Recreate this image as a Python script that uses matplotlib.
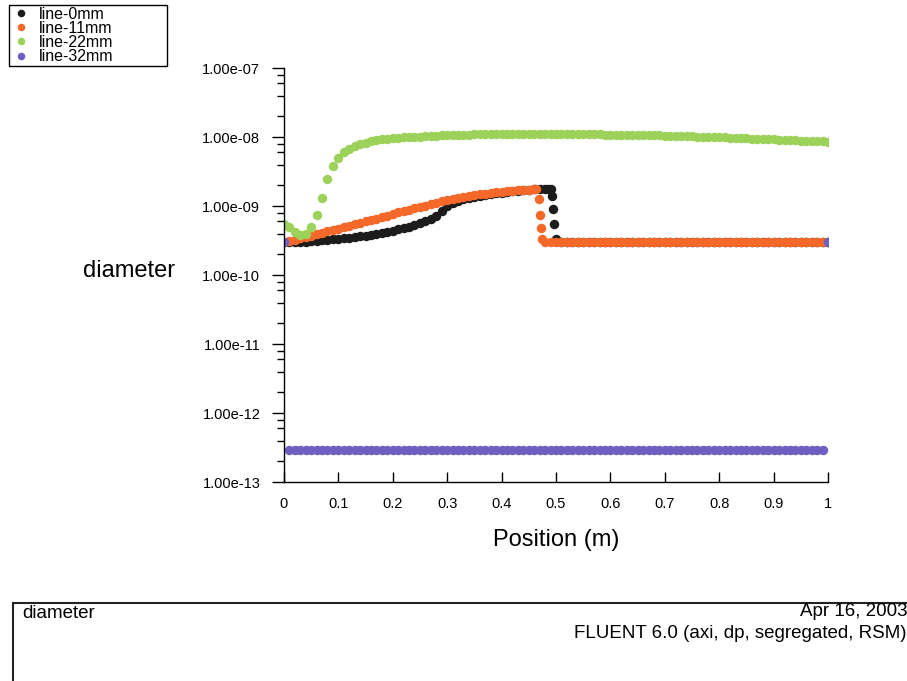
import matplotlib
matplotlib.use("Agg")
import matplotlib.pyplot as plt
from matplotlib.patches import Rectangle
from matplotlib.ticker import FixedLocator, FuncFormatter, LogLocator, NullFormatter

plt.rcParams['font.family'] = ['Liberation Sans', 'DejaVu Sans']

# sample positions along each line (m)
grid = [0.00, 0.01, 0.02, 0.03, 0.04, 0.05, 0.06, 0.07, 0.08, 0.09,
        0.10, 0.11, 0.12, 0.13, 0.14, 0.15, 0.16, 0.17, 0.18, 0.19,
        0.20, 0.21, 0.22, 0.23, 0.24, 0.25, 0.26, 0.27, 0.28, 0.29,
        0.30, 0.31, 0.32, 0.33, 0.34, 0.35, 0.36, 0.37, 0.38, 0.39,
        0.40, 0.41, 0.42, 0.43, 0.44, 0.45, 0.46, 0.47, 0.48, 0.49,
        0.50, 0.51, 0.52, 0.53, 0.54, 0.55, 0.56, 0.57, 0.58, 0.59,
        0.60, 0.61, 0.62, 0.63, 0.64, 0.65, 0.66, 0.67, 0.68, 0.69,
        0.70, 0.71, 0.72, 0.73, 0.74, 0.75, 0.76, 0.77, 0.78, 0.79,
        0.80, 0.81, 0.82, 0.83, 0.84, 0.85, 0.86, 0.87, 0.88, 0.89,
        0.90, 0.91, 0.92, 0.93, 0.94, 0.95, 0.96, 0.97, 0.98, 0.99,
        1.00]

d_0mm = [3.0e-10, 3.0e-10, 3.0e-10, 3.0e-10, 3.05e-10, 3.1e-10, 3.15e-10, 3.2e-10, 3.25e-10, 3.3e-10,
         3.35e-10, 3.4e-10, 3.5e-10, 3.55e-10, 3.65e-10, 3.75e-10, 3.85e-10, 3.95e-10, 4.1e-10, 4.25e-10,
         4.4e-10, 4.6e-10, 4.8e-10, 5.0e-10, 5.3e-10, 5.6e-10, 6.0e-10, 6.5e-10, 7.3e-10, 8.5e-10,
         1.0e-9, 1.1e-9, 1.18e-9, 1.25e-9, 1.3e-9, 1.35e-9, 1.4e-9, 1.45e-9, 1.5e-9, 1.53e-9,
         1.57e-9, 1.6e-9, 1.63e-9, 1.66e-9, 1.7e-9, 1.72e-9, 1.75e-9, 1.78e-9, 1.8e-9, 1.8e-9,
         3.3e-10] + [3.0e-10] * 50
d_0mm_drop_x = [0.485, 0.492, 0.494, 0.496]
d_0mm_drop = [1.8e-9, 1.4e-9, 9.0e-10, 5.5e-10]

d_11mm = [3.0e-10, 3.1e-10, 3.25e-10, 3.4e-10, 3.55e-10, 3.7e-10, 3.9e-10, 4.1e-10, 4.3e-10, 4.5e-10,
          4.7e-10, 4.95e-10, 5.2e-10, 5.45e-10, 5.7e-10, 6.0e-10, 6.3e-10, 6.6e-10, 6.95e-10, 7.3e-10,
          7.7e-10, 8.1e-10, 8.5e-10, 8.9e-10, 9.3e-10, 9.8e-10, 1.02e-9, 1.07e-9, 1.12e-9, 1.17e-9,
          1.22e-9, 1.27e-9, 1.32e-9, 1.36e-9, 1.4e-9, 1.44e-9, 1.48e-9, 1.52e-9, 1.55e-9, 1.58e-9,
          1.61e-9, 1.64e-9, 1.67e-9, 1.7e-9, 1.72e-9, 1.74e-9, 1.76e-9, 7.5e-10] + [3.0e-10] * 53
d_11mm_drop_x = [0.464, 0.468, 0.472, 0.475]
d_11mm_drop = [1.75e-9, 1.25e-9, 4.8e-10, 3.3e-10]

d_22mm = [5.5e-10, 5.0e-10, 4.2e-10, 3.8e-10, 4.0e-10, 5.0e-10, 7.5e-10, 1.3e-9, 2.5e-9, 3.8e-9,
          5.0e-9, 6.0e-9, 6.8e-9, 7.4e-9, 7.9e-9, 8.3e-9, 8.7e-9, 9.0e-9, 9.3e-9, 9.5e-9,
          9.7e-9, 9.8e-9, 9.9e-9, 1.0e-8, 1.01e-8, 1.02e-8, 1.03e-8, 1.04e-8, 1.05e-8, 1.06e-8,
          1.07e-8, 1.08e-8, 1.08e-8, 1.09e-8, 1.09e-8, 1.1e-8, 1.1e-8, 1.1e-8, 1.1e-8, 1.1e-8,
          1.1e-8, 1.1e-8, 1.1e-8, 1.1e-8, 1.1e-8, 1.1e-8, 1.1e-8, 1.1e-8, 1.1e-8, 1.1e-8,
          1.1e-8, 1.1e-8, 1.1e-8, 1.1e-8, 1.1e-8, 1.1e-8, 1.1e-8, 1.1e-8, 1.1e-8, 1.09e-8,
          1.09e-8, 1.09e-8, 1.08e-8, 1.08e-8, 1.08e-8, 1.07e-8, 1.07e-8, 1.07e-8, 1.06e-8, 1.06e-8,
          1.05e-8, 1.05e-8, 1.04e-8, 1.04e-8, 1.03e-8, 1.03e-8, 1.02e-8, 1.02e-8, 1.01e-8, 1.01e-8,
          1.0e-8, 9.9e-9, 9.8e-9, 9.8e-9, 9.7e-9, 9.6e-9, 9.5e-9, 9.5e-9, 9.4e-9, 9.3e-9,
          9.3e-9, 9.2e-9, 9.1e-9, 9.0e-9, 9.0e-9, 8.9e-9, 8.8e-9, 8.8e-9, 8.7e-9, 8.7e-9,
          8.6e-9]

d_32mm = [3.0e-10] + [2.9e-13] * 99 + [3.0e-10]

series = [
    ("line-0mm", grid + d_0mm_drop_x, d_0mm + d_0mm_drop, "#1c1c1c"),
    ("line-11mm", grid + d_11mm_drop_x, d_11mm + d_11mm_drop, "#f4692a"),
    ("line-22mm", grid, d_22mm, "#9dd25a"),
    ("line-32mm", grid, d_32mm, "#6e5fc2"),
]

fig = plt.figure(figsize=(9.07, 6.81), dpi=100)
ax = fig.add_axes([0.313, 0.292, 0.600, 0.608])

for name, xs, ys, col in series:
    ax.plot(xs, ys, linestyle="none", marker="o", markersize=6.8,
            markeredgewidth=0, color=col, label=name)

ax.set_yscale("log")
ax.set_ylim(1e-13, 1e-7)
ax.set_xlim(0, 1)
ax.yaxis.set_major_locator(LogLocator(base=10, numticks=10))
ax.yaxis.set_minor_locator(LogLocator(base=10, subs=(2, 4, 6, 8), numticks=10))
ax.yaxis.set_minor_formatter(NullFormatter())
ax.yaxis.set_major_formatter(FuncFormatter(lambda v, p: f"{v:.2e}"))
ax.xaxis.set_major_locator(FixedLocator([0, 0.1, 0.2, 0.3, 0.4, 0.5, 0.6, 0.7, 0.8, 0.9, 1.0]))
ax.xaxis.set_major_formatter(FuncFormatter(lambda v, p: f"{v:g}"))

for s in ("top", "right"):
    ax.spines[s].set_visible(False)
ax.spines["left"].set_linewidth(1.0)
ax.spines["bottom"].set_linewidth(1.0)
ax.tick_params(axis="y", which="major", direction="out", length=9, width=1,
               labelsize=10.5, pad=8)
ax.tick_params(axis="y", which="minor", direction="out", length=5, width=1)
ax.tick_params(axis="x", which="major", direction="in", length=7, width=1,
               labelsize=10.5, pad=11)
ax.patch.set_visible(False)

ax.set_ylabel("diameter", rotation=0, fontsize=17, ha="right", va="center")
ax.yaxis.set_label_coords(-0.2, 0.51)
ax.set_xlabel("Position (m)", fontsize=17, va="center")
ax.xaxis.set_label_coords(0.5, -0.14)

leg = fig.legend(loc="upper left", bbox_to_anchor=(9 / 907, 1 - 57 / 681, 158 / 907, 52 / 681),
                 mode="expand", fontsize=11.5, frameon=True, fancybox=False, framealpha=1,
                 edgecolor="black", borderpad=0.1, labelspacing=-0.05,
                 handletextpad=0.5, handlelength=1.3, markerscale=0.8,
                 borderaxespad=0)
leg.get_frame().set_linewidth(1.0)

# footer box
fig.add_artist(Rectangle((13 / 907, -0.1), 1.0, 0.1 + (681 - 603) / 681,
                         transform=fig.transFigure, fill=False,
                         edgecolor="#222222", linewidth=1.5))
fig.text(22 / 907, 1 - 613 / 681, "diameter", fontsize=13.5, ha="left", va="center")
fig.text(907 / 907, 1 - 612 / 681, "Apr 16, 2003", fontsize=13.5, ha="right", va="center")
fig.text(907 / 907, 1 - 634 / 681, "FLUENT 6.0 (axi, dp, segregated, RSM)",
         fontsize=13.5, ha="right", va="center")

fig.savefig("out.png", dpi=100)
